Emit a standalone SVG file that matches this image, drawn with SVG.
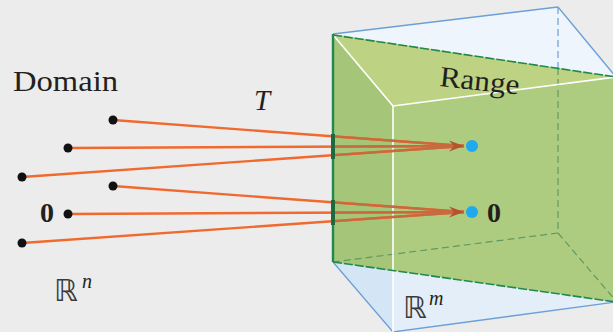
<svg xmlns="http://www.w3.org/2000/svg" width="613" height="332" viewBox="0 0 613 332">
<defs>
<style>
.lbl{font-family:"Liberation Serif","Times New Roman",serif;fill:#231f20}
.bb{font-family:"DejaVu Sans","Noto Sans",sans-serif;fill:#3a3a3a}
.edgeB{stroke:#6c9fd6;stroke-width:1.3;fill:none}
.edgeW{stroke:#ffffff;stroke-width:1.6;fill:none}
.edgeG{stroke:#1f8a4c;fill:none}
.hid{stroke:#5f9a62;stroke-width:1.2;stroke-dasharray:7 4;fill:none}
.ray{stroke-width:2.4;fill:none}
.dot{fill:#111}
.img{fill:#1fa9ee}
</style>
<marker id="ah" viewBox="-16 -7 18 14" refX="0" refY="0" markerWidth="18" markerHeight="14" markerUnits="userSpaceOnUse" orient="auto">
<path d="M0,0 L-15,-5.5 L-10,0 L-15,5.5 Z" fill="#b5532d"/>
</marker>
<clipPath id="inBox"><rect x="334" y="0" width="300" height="332"/></clipPath>
<g id="rays">
<line x1="113" y1="120" x2="464" y2="146"/>
<line x1="68" y1="148" x2="464" y2="146"/>
<line x1="22" y1="177" x2="464" y2="146"/>
<line x1="113" y1="186" x2="464" y2="212"/>
<line x1="68" y1="214" x2="464" y2="212"/>
<line x1="22" y1="243" x2="464" y2="212"/>
</g>
</defs>
<rect width="613" height="332" fill="#ececec"/>

<g id="codomain-box">
<polygon points="333,34 558,7 616,77 393,106" fill="#eef5fc"/>
<polygon points="333,34 393,106 393,332 333,262" fill="#d4e6f6"/>
<polygon points="393,106 616,77 616,302 393,332" fill="#e3eef9"/>
</g>

<g id="range-plane">
<polygon points="333,34 616,77 393,106" fill="#bdd383"/>
<polygon points="333,34 393,106 393,270.5 333,262" fill="#a5c678"/>
<polygon points="393,106 616,77 616,302 393,270.5" fill="#aecc80"/>
</g>

<g id="box-edges">
<line class="hid" x1="558" y1="233" x2="333" y2="262"/>
<line class="hid" x1="558" y1="233" x2="616" y2="301"/>
<line class="hid" x1="558" y1="68" x2="558" y2="233"/>
<line x1="558" y1="7" x2="558" y2="68" stroke="#6c9fd6" stroke-width="1.2" stroke-dasharray="7 4"/>
<line class="edgeB" x1="333" y1="34" x2="558" y2="7"/>
<line class="edgeB" x1="558" y1="7" x2="616" y2="77"/>
<line class="edgeB" x1="333" y1="262" x2="393" y2="332"/>
<line class="edgeB" x1="393" y1="332" x2="616" y2="302"/>
<line class="edgeW" x1="334" y1="36" x2="393" y2="106"/>
<line class="edgeW" x1="393" y1="106" x2="616" y2="77"/>
<line class="edgeW" x1="393" y1="106" x2="393" y2="332"/>
<line class="edgeG" x1="333" y1="35" x2="616" y2="77" stroke-width="1.6" stroke-dasharray="9 2"/>
<line class="edgeG" x1="333" y1="262" x2="616" y2="302" stroke-width="1.6" stroke-dasharray="9 2"/>
<line class="edgeG" x1="333" y1="34" x2="333" y2="262" stroke-width="2.4"/>
</g>

<g id="connectors">
<use href="#rays" stroke="#f0692e" class="ray"/>
<use href="#rays" stroke="#c96a3e" class="ray" clip-path="url(#inBox)"/>
<line x1="400" y1="146" x2="464" y2="146" stroke="none" marker-end="url(#ah)"/>
<line x1="400" y1="212" x2="464" y2="212" stroke="none" marker-end="url(#ah)"/>
<rect x="331" y="134" width="4" height="25" fill="#1e6a3c"/>
<rect x="331" y="200" width="4" height="25" fill="#1e6a3c"/>
</g>

<g id="domain-points">
<circle class="dot" cx="113" cy="120" r="4.5"/>
<circle class="dot" cx="68" cy="148" r="4.5"/>
<circle class="dot" cx="22" cy="177" r="4.5"/>
<circle class="dot" cx="113" cy="186" r="4.5"/>
<circle class="dot" cx="68" cy="214" r="4.5"/>
<circle class="dot" cx="22" cy="243" r="4.5"/>
</g>

<g id="range-points">
<circle class="img" cx="472" cy="146" r="6"/>
<circle class="img" cx="472" cy="212" r="6"/>
</g>

<g id="labels">
<text class="lbl" x="13" y="91" font-size="29" textLength="105" lengthAdjust="spacingAndGlyphs">Domain</text>
<text class="lbl" x="254" y="110" font-size="29" font-style="italic">T</text>
<text class="lbl" x="40" y="222" font-size="28" font-weight="bold">0</text>
<text class="lbl" x="487" y="222" font-size="28" font-weight="bold">0</text>
<text class="lbl" x="0" y="0" font-size="29" textLength="80" lengthAdjust="spacingAndGlyphs" transform="translate(439,86) rotate(6)">Range</text>
<text class="bb" x="54" y="301" font-size="30">ℝ</text>
<text class="lbl" x="82" y="288" font-size="20" font-style="italic">n</text>
<text class="bb" x="403" y="318" font-size="30">ℝ</text>
<text class="lbl" x="429" y="305" font-size="20" font-style="italic">m</text>
</g>
</svg>
